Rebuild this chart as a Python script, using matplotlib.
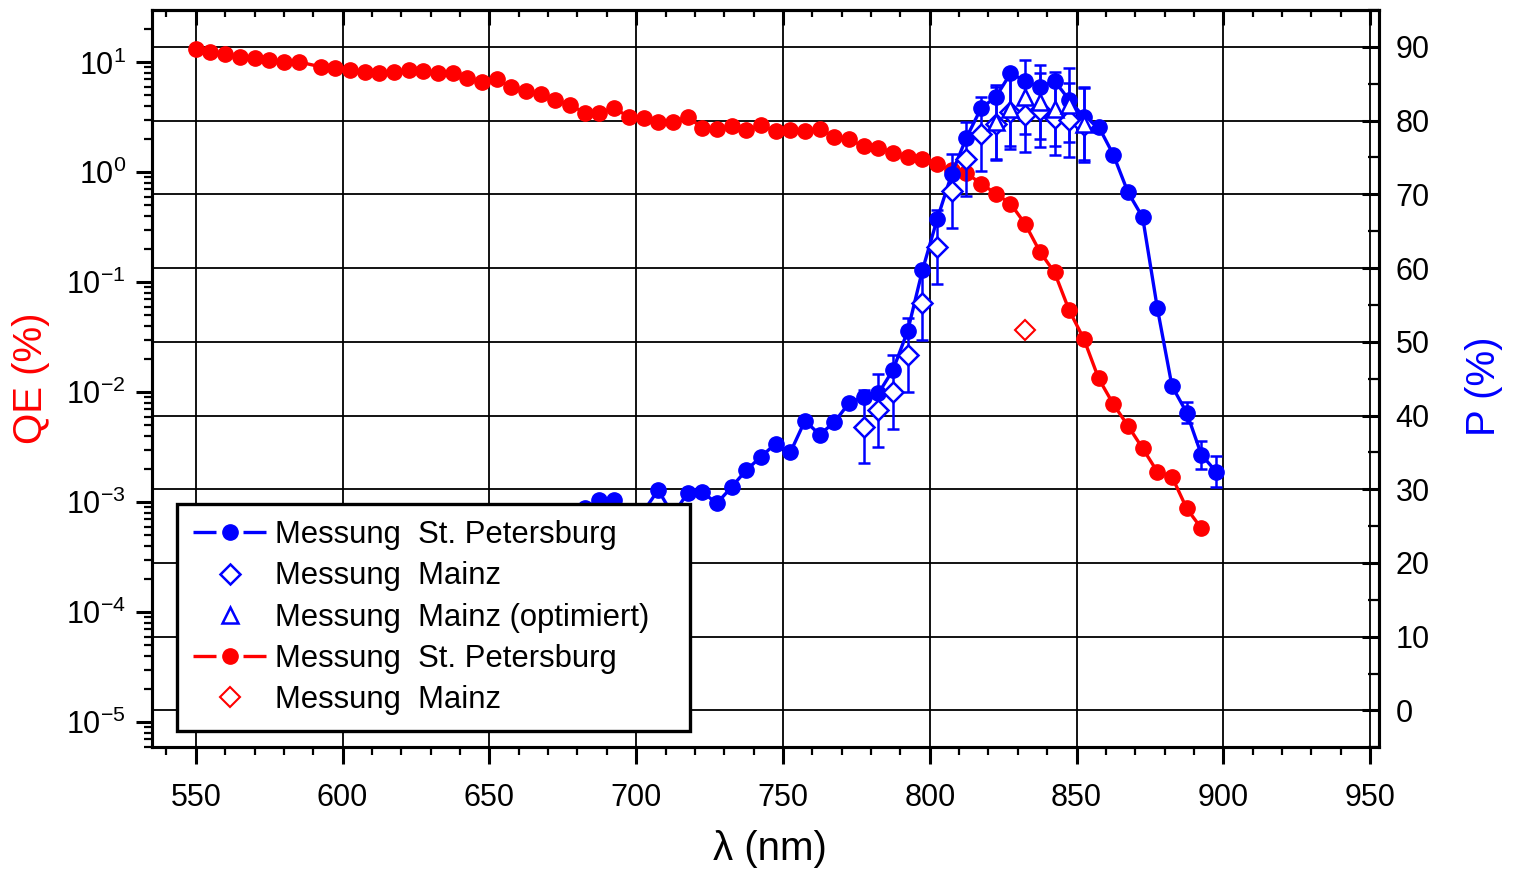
import matplotlib
matplotlib.use("Agg")
import matplotlib.pyplot as plt
from matplotlib.ticker import MultipleLocator, LogLocator, NullFormatter
from matplotlib.transforms import blended_transform_factory
from matplotlib.lines import Line2D
from matplotlib.legend_handler import HandlerTuple

plt.rcParams['font.family'] = ['Liberation Sans', 'DejaVu Sans']
plt.rcParams['mathtext.fontset'] = 'custom'
plt.rcParams['mathtext.rm'] = 'Liberation Sans'
plt.rcParams['mathtext.it'] = 'Liberation Sans:italic'
plt.rcParams['mathtext.bf'] = 'Liberation Sans:bold'

BLUE = '#0000FF'
RED = '#FF0000'

# Quantum efficiency (St. Petersburg), QE in %
qe_sp_wl = [550, 555, 560, 565, 570, 575, 580, 585,
            592.5, 597.5, 602.5, 607.5, 612.5, 617.5, 622.5, 627.5, 632.5, 637.5,
            642.5, 647.5, 652.5, 657.5, 662.5, 667.5, 672.5, 677.5, 682.5, 687.5,
            692.5, 697.5, 702.5, 707.5, 712.5, 717.5, 722.5, 727.5, 732.5, 737.5,
            742.5, 747.5, 752.5, 757.5, 762.5, 767.5, 772.5, 777.5, 782.5, 787.5,
            792.5, 797.5, 802.5, 807.5, 812.5, 817.5, 822.5, 827.5, 832.5, 837.5,
            842.5, 847.5, 852.5, 857.5, 862.5, 867.5, 872.5, 877.5, 882.5, 887.5,
            892.5]
qe_sp = [13.1, 12.5, 11.9, 11.2, 10.9, 10.5, 10.1, 10.1,
         9.12, 8.82, 8.51, 8.22, 7.94, 8.22, 8.51, 8.33, 7.94, 8.04,
         7.16, 6.67, 7.00, 5.93, 5.52, 5.12, 4.54, 4.09, 3.48, 3.48,
         3.82, 3.20, 3.10, 2.88, 2.88, 3.20, 2.54, 2.46, 2.64, 2.43,
         2.69, 2.37, 2.43, 2.37, 2.48, 2.11, 1.99, 1.73, 1.68, 1.51,
         1.38, 1.32, 1.18, 1.05, 0.98, 0.79, 0.64, 0.52, 0.339, 0.190,
         0.123, 0.0556, 0.0305, 0.0134, 0.00783, 0.00497, 0.00310, 0.00190, 0.00171, 0.000882,
         0.000581]

# Quantum efficiency (Mainz)
qe_mz_wl = [832.5]
qe_mz = [0.0368]

# Polarization (St. Petersburg), P in %
p_sp_wl = [672.5, 677.5, 682.5, 687.5, 692.5, 697.5, 702.5, 707.5, 712.5, 717.5,
           722.5, 727.5, 732.5, 737.5, 742.5, 747.5, 752.5, 757.5, 762.5, 767.5,
           772.5, 777.5, 782.5, 787.5, 792.5, 797.5, 802.5, 807.5, 812.5, 817.5,
           822.5, 827.5, 832.5, 837.5, 842.5, 847.5, 852.5, 857.5, 862.5, 867.5,
           872.5, 877.5, 882.5, 887.5, 892.5, 897.5]
p_sp = [26.0, 27.0, 27.5, 28.5, 28.5, 27.0, 27.0, 29.9, 26.5, 29.5,
        29.6, 28.1, 30.3, 32.6, 34.4, 36.2, 35.0, 39.3, 37.4, 39.1,
        41.7, 42.5, 43.0, 46.2, 51.5, 59.7, 66.6, 72.8, 77.7, 81.7,
        83.2, 86.4, 85.4, 84.5, 85.4, 82.8, 80.5, 79.2, 75.4, 70.3,
        66.9, 54.6, 44.0, 40.4, 34.7, 32.4]
p_sp_err = [0, 0, 0, 0, 0, 0, 0, 0, 0, 0,
            0, 0, 0, 0, 0, 0, 0, 0, 0, 0,
            0, 0, 0, 0, 0, 0, 0, 0, 0, 0,
            0, 0, 0, 0, 0, 0, 0, 0, 0, 0,
            0, 0, 0, 1.4, 1.9, 2.1]

# Polarization (Mainz)
p_mz_wl = [777.5, 782.5, 787.5, 792.5, 797.5, 802.5, 807.5, 812.5,
           817.5, 822.5, 827.5, 832.5, 837.5, 842.5, 847.5, 852.5]
p_mz = [38.5, 40.7, 43.2, 48.2, 55.2, 62.9, 70.5, 74.8,
        78.2, 79.6, 81.2, 80.7, 81.4, 80.3, 80.1, 79.4]
p_mz_err = [5.0] * 16

# Polarization (Mainz, optimised)
p_opt_wl = [822.5, 827.5, 832.5, 837.5, 842.5, 847.5, 852.5]
p_opt = [79.8, 81.6, 83.2, 82.5, 81.6, 82.1, 79.6]
p_opt_err = [5.0] * 7

legend_labels = ['Messung  St. Petersburg', 'Messung  Mainz',
                 'Messung  Mainz (optimiert)', 'Messung  St. Petersburg',
                 'Messung  Mainz']

fig = plt.figure(figsize=(15.16, 8.72), dpi=100)
ax1 = fig.add_axes([0.1001, 0.1430, 0.8095, 0.8455])
ax2 = ax1.twinx()

# --- QE axis (left, log) ---
ax1.set_yscale('log')
ax1.set_xlim(535, 953)
ax1.set_ylim(5.93e-6, 29.9)
ax2.set_ylim(-5, 95)

ax1.yaxis.set_major_locator(LogLocator(base=10, numticks=20))
ax1.yaxis.set_minor_locator(LogLocator(base=10, subs=range(2, 10), numticks=20))
ax1.yaxis.set_minor_formatter(NullFormatter())
ax1.xaxis.set_major_locator(MultipleLocator(50))
ax1.xaxis.set_minor_locator(MultipleLocator(10))
ax2.yaxis.set_major_locator(MultipleLocator(10))
ax2.yaxis.set_minor_locator(MultipleLocator(5))

# grid: vertical from x-axis, horizontal at the P ticks, both beneath the data
ax1.set_axisbelow(True)
ax1.grid(axis='x', which='major', color='black', lw=1.3)
blend = blended_transform_factory(ax1.transAxes, ax2.transData)
for v in ax2.get_yticks():
    if -5 < v < 95:
        ax1.plot([0, 1], [v, v], transform=blend, color='black', lw=1.3, zorder=0.5)

# red: QE
ax1.plot(qe_sp_wl, qe_sp, '-o', color=RED, lw=2.4, ms=11, mec=RED, mfc=RED, zorder=3)
ax1.plot(qe_mz_wl, qe_mz, 'D', color=RED, ms=10.5, mfc='white', mec=RED, mew=1.5, zorder=3)

# blue: polarization
c_sp = ax2.errorbar(p_sp_wl, p_sp, yerr=p_sp_err, fmt='-o', color=BLUE, lw=2.4, ms=11,
                    mec=BLUE, mfc=BLUE, elinewidth=1.8, capsize=4.5, capthick=1.8, zorder=3)
c_mz = ax2.errorbar(p_mz_wl, p_mz, yerr=p_mz_err, fmt='D', color=BLUE, ms=10.5, mfc='white',
                    mec=BLUE, mew=1.8, elinewidth=1.8, capsize=4.5, capthick=1.8, zorder=4)
c_opt = ax2.errorbar(p_opt_wl, p_opt, yerr=p_opt_err, fmt='^', color=BLUE, ms=12, mfc='white',
                     mec=BLUE, mew=1.8, elinewidth=1.8, capsize=4.5, capthick=1.8, zorder=4)

# ticks
ax1.tick_params(axis='y', which='major', direction='out', length=11.5, width=2.2,
                labelsize=22, pad=7, left=True, right=False)
ax1.tick_params(axis='y', which='minor', direction='out', length=5.8, width=1.6,
                left=True, right=False)
ax1.tick_params(axis='x', which='major', direction='out', length=12, width=2.2,
                labelsize=22, pad=13.5, bottom=True, top=False)
ax1.tick_params(axis='x', which='minor', direction='out', length=6, width=1.6,
                bottom=True, top=False)
ax2.tick_params(axis='y', which='major', direction='in', length=12, width=2.2,
                labelsize=22, pad=12, right=True, left=False)
ax2.tick_params(axis='y', which='minor', direction='in', length=8, width=1.6,
                right=True, left=False)

secx = ax1.secondary_xaxis('top')
secx.xaxis.set_major_locator(MultipleLocator(50))
secx.xaxis.set_minor_locator(MultipleLocator(10))
secx.tick_params(axis='x', which='major', direction='in', length=11, width=2.2, labeltop=False)
secx.tick_params(axis='x', which='minor', direction='in', length=5, width=1.6)
secx.spines['top'].set_linewidth(2.2)

for ax in (ax1, ax2):
    for s in ax.spines.values():
        s.set_linewidth(2.2)

# labels
ax1.set_xlabel('λ (nm)', fontsize=29)
ax1.xaxis.set_label_coords(0.504, -0.112)
ax1.set_ylabel('QE (%)', fontsize=29, color=RED)
ax1.yaxis.set_label_coords(-0.083, 0.5)
ax2.set_ylabel('P (%)', fontsize=29, color=BLUE)
ax2.yaxis.set_label_coords(1.070, 0.49)

# legend: connected series shown as "line - marker - line" with a gap round the marker
def line_marker_handle(color):
    seg = Line2D([], [], color=color, lw=2.4, dashes=[6.9, 8.1])
    dot = Line2D([], [], color=color, ls='none', marker='o', ms=11, mec=color, mfc=color)
    return (seg, dot)

red_lines = ax1.get_lines()
handles = [line_marker_handle(BLUE), c_mz.lines[0], c_opt.lines[0],
           line_marker_handle(RED), red_lines[-1]]
leg = ax2.legend(handles, legend_labels, loc='lower left',
                 bbox_to_anchor=(0.0206, 0.0221, 0.418, 0.3), mode='expand',
                 borderaxespad=0, fontsize=22.3, frameon=True, fancybox=False,
                 edgecolor='black', facecolor='white', framealpha=1,
                 handlelength=2.35, handletextpad=0.3, labelspacing=0.36,
                 borderpad=0.52, numpoints=1,
                 handler_map={tuple: HandlerTuple(ndivide=1, pad=0)})
leg.get_frame().set_linewidth(2.4)
leg.set_zorder(10)

fig.savefig('out.png', dpi=100)
